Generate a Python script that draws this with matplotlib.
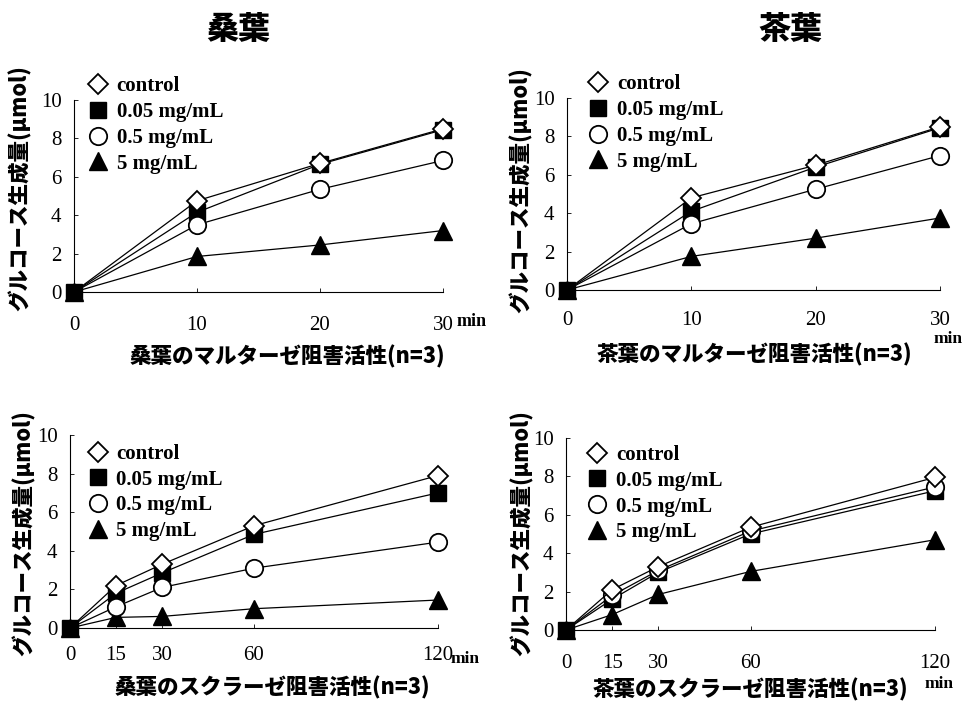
import matplotlib
matplotlib.use("Agg")
import matplotlib.pyplot as plt

W, H = 967, 706

# data
labels = ["control", "0.05 mg/mL", "0.5 mg/mL", "5 mg/mL"]

t_maltase = [0, 10, 20, 30]
kuwa_maltase = [
    [0, 4.75, 6.7, 8.5],
    [0, 4.15, 6.65, 8.45],
    [0, 3.5, 5.35, 6.85],
    [0, 1.85, 2.45, 3.2],
]
cha_maltase = [
    [0, 4.8, 6.5, 8.5],
    [0, 4.1, 6.4, 8.45],
    [0, 3.45, 5.25, 7.0],
    [0, 1.75, 2.7, 3.75],
]

t_sucrase = [0, 15, 30, 60, 120]
kuwa_sucrase = [
    [0, 2.2, 3.3, 5.3, 7.9],
    [0, 1.8, 2.85, 4.85, 7.0],
    [0, 1.1, 2.1, 3.1, 4.45],
    [0, 0.55, 0.6, 1.0, 1.45],
]
cha_sucrase = [
    [0, 2.1, 3.3, 5.35, 7.95],
    [0, 1.6, 3.0, 5.0, 7.25],
    [0, 1.8, 3.1, 5.15, 7.45],
    [0, 0.8, 1.85, 3.05, 4.7],
]

titles = ["桑葉", "茶葉"]
xlabels = ["桑葉のマルターゼ阻害活性(n=3)", "茶葉のマルターゼ阻害活性(n=3)",
           "桑葉のスクラーゼ阻害活性(n=3)", "茶葉のスクラーゼ阻害活性(n=3)"]
ylabel = "グルコース生成量(μmol)"

JP = ["Noto Sans CJK JP", "DejaVu Sans"]
SERIF = "Liberation Serif"

styles = [
    dict(marker="D", ms=10, mfc="white", mec="black", mew=1.3, zorder=6),
    dict(marker="s", ms=11, mfc="black", mec="black", mew=1.0, zorder=4),
    dict(marker="o", ms=12.5, mfc="white", mec="black", mew=1.3, zorder=5),
    dict(marker="^", ms=12.5, mfc="black", mec="black", mew=1.0, zorder=3),
]


def px_axes(x0, y0, x1, y1):
    return [x0 / W, 1 - y1 / H, (x1 - x0) / W, (y1 - y0) / H]


def fx(x):
    return x / W


def fy(y):
    return 1 - y / H


fig = plt.figure(figsize=(W / 100, H / 100), dpi=100)

# rect, times, series, tmax, x tick pad, legend anchor
panels = [
    (px_axes(74, 100, 443, 292), t_maltase, kuwa_maltase, 30, 17, (0.0, 1.2)),
    (px_axes(567, 98, 940, 290), t_maltase, cha_maltase, 30, 15, (0.02, 1.2)),
    (px_axes(70, 435, 438, 628), t_sucrase, kuwa_sucrase, 120, 13, (0.01, 1.03)),
    (px_axes(566, 438, 935, 630), t_sucrase, cha_sucrase, 120, 17, (0.02, 1.04)),
]

for rect, t, series, tmax, xpad, anchor in panels:
    ax = fig.add_axes(rect)
    for k, ys in enumerate(series):
        st = dict(styles[k])
        skip = slice(1, None) if k in (0, 2) else None
        ax.plot(t, ys, color="black", lw=0.9, label=labels[k],
                clip_on=False, markevery=skip, **st)
    ax.set_xlim(0, tmax)
    ax.set_ylim(0, 10)
    ax.set_yticks([0, 2, 4, 6, 8, 10])
    ax.set_xticks(t)
    ax.set_xticklabels([str(v) for v in t], fontfamily=SERIF, fontsize=15)
    ax.set_yticklabels([str(v) for v in range(0, 11, 2)], fontfamily=SERIF, fontsize=15)
    ax.spines["top"].set_visible(False)
    ax.spines["right"].set_visible(False)
    for s in ("left", "bottom"):
        ax.spines[s].set_linewidth(0.8)
    ax.tick_params(direction="in", length=3, width=0.6)
    ax.tick_params(axis="x", pad=xpad)
    ax.tick_params(axis="y", pad=9)

    leg = ax.legend(loc="upper left", frameon=False, bbox_to_anchor=anchor,
                    prop=dict(family=SERIF, weight="bold", size=15),
                    handlelength=0.9, handletextpad=0.45, labelspacing=0.28,
                    borderaxespad=0.3, numpoints=1)
    for h in leg.legend_handles:
        h.set_linestyle("none")

# "min" units
fig.text(fx(457), fy(322), "min", fontfamily=SERIF, fontweight="bold",
         fontsize=13, va="center", ha="left")
fig.text(fx(948), fy(339), "min", fontfamily=SERIF, fontweight="bold",
         fontsize=12.5, va="center", ha="center")
fig.text(fx(451), fy(659), "min", fontfamily=SERIF, fontweight="bold",
         fontsize=12.5, va="center", ha="left")
fig.text(fx(939), fy(684), "min", fontfamily=SERIF, fontweight="bold",
         fontsize=12.5, va="center", ha="center")

# titles
fig.text(fx(238), fy(29), titles[0], family=JP, fontweight="heavy",
         fontsize=23, ha="center", va="center")
fig.text(fx(790), fy(29), titles[1], family=JP, fontweight="heavy",
         fontsize=23, ha="center", va="center")

# x labels
for (x, y), txt in zip([(287, 357), (754, 355), (272, 688), (750, 690)], xlabels):
    fig.text(fx(x), fy(y), txt, family=JP, fontweight="heavy",
             fontsize=15.5, ha="center", va="center")

# y labels
for x, y in [(20, 188), (521, 190), (24, 533), (522, 533)]:
    fig.text(fx(x), fy(y), ylabel, family=JP, fontweight="heavy",
             fontsize=15.5, ha="center", va="center", rotation=90)

fig.savefig("out.png", dpi=100, facecolor="white")
